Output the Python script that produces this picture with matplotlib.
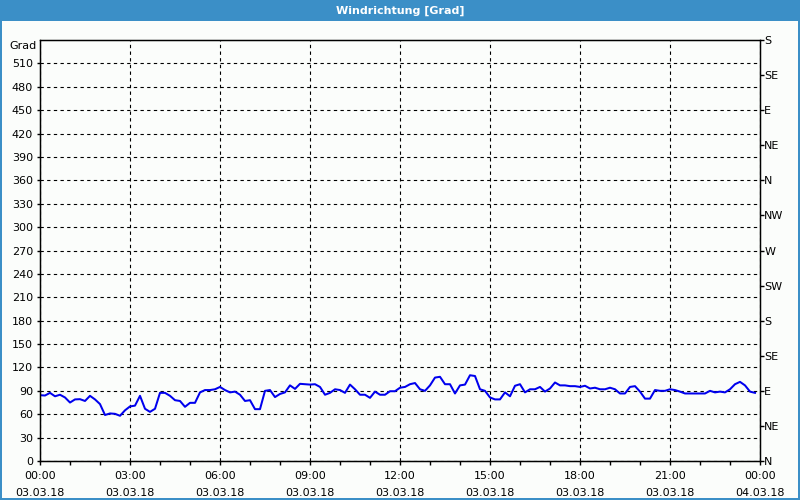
import matplotlib
matplotlib.use('Agg')
import matplotlib.pyplot as plt
from matplotlib.patches import Rectangle
import numpy as np

# Windrichtung in Grad, 10-Minuten-Werte 03.03.18 00:00 .. 23:50
wind_00_06 = [84.4, 84, 87.4, 83, 85, 81.5, 75, 79, 79.3, 77, 83.6, 79,
              73, 59, 61, 60.5, 58, 65, 70, 71, 83.6, 67, 63, 67,
              87.4, 87.4, 83.6, 78, 77, 69.5, 74.6, 74.6, 88, 91, 91, 92]
wind_06_12 = [95, 91, 88, 89, 85, 77, 78, 66.5, 66.5, 90, 91, 82,
              86, 88, 97, 92.5, 99, 98.5, 98, 98.5, 95, 85, 87.4, 92,
              91, 87.4, 98, 92, 85, 85, 81, 89, 85, 85, 89.5, 89.5]
wind_12_18 = [94, 95, 98.5, 100, 92, 90, 97, 107, 108, 98.5, 98.5, 86.6,
              97, 98, 110, 109, 92, 90, 81.5, 79, 79, 88, 83, 96.5,
              98.5, 88, 92, 92, 95, 89, 93, 100.7, 97, 97, 96, 96]
wind_18_24 = [95, 96.5, 93, 94, 92, 92, 94, 92, 86.6, 86.6, 95, 96,
              89, 80, 80, 91, 90, 90, 92, 91, 89, 86.6, 86.6, 86.6,
              86.6, 86.6, 90, 88, 89, 88, 92, 98.5, 101.5, 97, 89, 87.4]
wind = wind_00_06 + wind_06_12 + wind_12_18 + wind_18_24
hours = np.arange(len(wind)) / 6.0

x_ticks = [0, 3, 6, 9, 12, 15, 18, 21, 24]
x_labels = ['00:00\n03.03.18', '03:00\n03.03.18', '06:00\n03.03.18',
            '09:00\n03.03.18', '12:00\n03.03.18', '15:00\n03.03.18',
            '18:00\n03.03.18', '21:00\n03.03.18', '00:00\n04.03.18']
y_ticks = list(range(0, 511, 30))
dir_ticks = list(range(0, 541, 45))
dir_labels = ['N', 'NE', 'E', 'SE', 'S', 'SW', 'W', 'NW',
              'N', 'NE', 'E', 'SE', 'S']

frame_blue = '#3b8fc7'
bg = '#fbfdfb'

fig = plt.figure(figsize=(8, 5), dpi=100)
fig.patch.set_facecolor(bg)

# Titelleiste und Fensterrahmen
fig.add_artist(Rectangle((0, 1 - 21 / 500), 1, 21 / 500, transform=fig.transFigure,
                         facecolor=frame_blue, edgecolor='none'))
fig.add_artist(Rectangle((0, 0), 2 / 800, 1, transform=fig.transFigure,
                         facecolor=frame_blue, edgecolor='none'))
fig.add_artist(Rectangle((1 - 2 / 800, 0), 2 / 800, 1, transform=fig.transFigure,
                         facecolor=frame_blue, edgecolor='none'))
fig.add_artist(Rectangle((0, 0), 1, 2 / 500, transform=fig.transFigure,
                         facecolor=frame_blue, edgecolor='none'))
fig.text(0.5, 1 - 11 / 500, 'Windrichtung [Grad]', color='white', fontsize=8,
         fontweight='bold', ha='center', va='center')

ax = fig.add_axes([40 / 800, 39 / 500, 720 / 800, 421 / 500])
ax.set_facecolor(bg)
ax.plot(hours, wind, color='#0000ee', linewidth=1.45)

ax.set_xlim(0, 24)
ax.set_ylim(0, 540)
ax.set_xticks(x_ticks)
ax.set_xticklabels(x_labels, fontsize=8, linespacing=1.9)
ax.set_xticks(range(0, 25), minor=True)
ax.set_yticks(y_ticks)
ax.set_yticklabels([str(v) for v in y_ticks], fontsize=8)

ax.tick_params(axis='x', which='both', direction='out', length=3, width=1, pad=4)
ax.tick_params(axis='y', direction='out', length=2, width=1, pad=3)
for s in ax.spines.values():
    s.set_linewidth(1)

ax.grid(True, which='major', color='black', linestyle=(0, (3, 3)), linewidth=0.8)
ax.text(-0.004, 540 - 6 / 0.7796, 'Grad', transform=ax.get_yaxis_transform(),
        fontsize=8, ha='right', va='center')

ax2 = ax.twinx()
ax2.set_ylim(0, 540)
ax2.set_yticks(dir_ticks)
ax2.set_yticklabels(dir_labels, fontsize=8)
ax2.tick_params(axis='y', direction='out', length=3, width=1, pad=0)

plt.savefig('out.png', dpi=100, facecolor=bg)
plt.close(fig)
